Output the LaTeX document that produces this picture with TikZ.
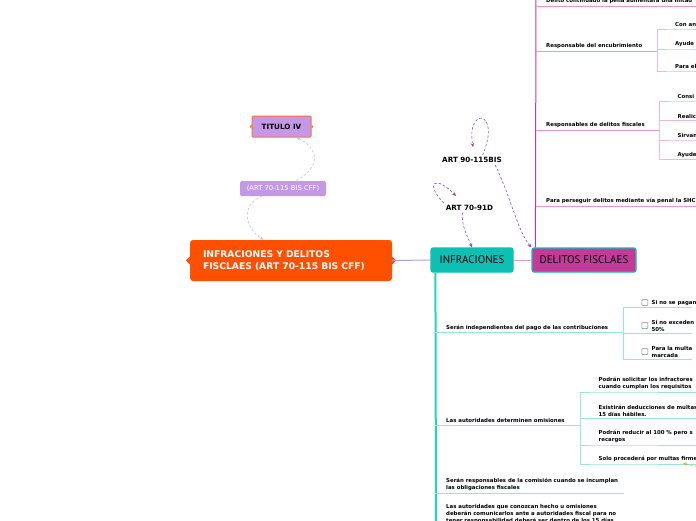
\documentclass[tikz,border=0pt]{standalone}
\usepackage{fontspec}
\setmainfont{DejaVu Sans}
\newfontfamily\hubfont{PT Sans}
\usetikzlibrary{positioning,arrows.meta}

\definecolor{fiscorange}{RGB}{255,80,0}
\definecolor{infteal}{RGB}{14,192,180}
\definecolor{inftrunk}{RGB}{34,214,186}
\definecolor{infline}{RGB}{150,232,214}
\definecolor{delmag}{RGB}{196,58,152}
\definecolor{delline}{RGB}{234,150,206}
\definecolor{delsub}{RGB}{240,182,222}
\definecolor{lavender}{RGB}{196,152,230}
\definecolor{relpurple}{RGB}{126,84,176}
\definecolor{rellight}{RGB}{208,186,238}
\definecolor{rootline}{RGB}{172,160,214}
\definecolor{relorange}{RGB}{246,160,60}

\begin{document}
\begin{tikzpicture}[x=1pt, y=-1pt,
        every node/.style = {inner sep=0pt},
        leaf/.style = {anchor=south west, align=left, inner ysep=2pt,
                       font=\bfseries\fontsize{5.4}{7}\selectfont},
        hub/.style = {draw, line width=1.2pt, rounded corners=2pt, minimum height=24pt,
                      font=\hubfont\fontsize{11}{13}\selectfont},
        rellabel/.style = {font=\bfseries\fontsize{7.2}{8}\selectfont, inner sep=2pt},
        rel/.style = {relpurple, line width=0.6pt, dash pattern=on 2.5pt off 2pt},
        tip/.style = {-{Stealth[length=4pt,width=3.5pt]}},
        dline/.style = {delline, line width=0.8pt},
        dsub/.style = {delsub, line width=0.8pt},
        iline/.style = {infline, line width=1pt},
        chkbox/.style = {draw=gray, line width=0.5pt, rounded corners=0.8pt,
                         minimum size=6pt}]
  \useasboundingbox (0,0) rectangle (696,520);
  \fill[white] (0,0) rectangle (696,520);
  \clip (0,0) rectangle (696,520);

  % central topics
  \node[fill=fiscorange, rounded corners=3pt, text=white, minimum width=202pt,
        minimum height=41pt, text width=176pt, align=left,
        font=\bfseries\fontsize{9.2}{12.5}\selectfont] (root) at (291,260.5)
        {INFRACIONES Y DELITOS\\FISCLAES (ART 70-115 BIS CFF)};
  \fill[fiscorange] ([yshift=4pt]root.west) -- ++(-4pt,-4pt) -- ++(4pt,-4pt) -- cycle;
  \fill[fiscorange] ([yshift=4pt]root.east) -- ++(4pt,-4pt) -- ++(-4pt,-4pt) -- cycle;
  \node[hub, fill=infteal, draw=infteal, minimum width=82pt] (infra) at (472,260) {INFRACIONES};
  \node[hub, fill=delmag, draw=infteal, minimum width=104pt] (delitos) at (584,260) {DELITOS FISCLAES};
  \draw[rootline, line width=1pt] (root.east) -- (infra.west);
  \draw[delline, line width=1pt] (infra.east) -- (delitos.west);

  % titulo and its relation
  \node[draw=fiscorange!80, fill=lavender, line width=1pt, rounded corners=1pt,
        minimum width=59pt, minimum height=21pt,
        font=\bfseries\fontsize{7.2}{8}\selectfont] (titulo) at (281.5,126.5) {TITULO IV};
  \fill[fiscorange!80] ([yshift=2pt]titulo.west) -- ++(-2pt,-2pt) -- ++(2pt,-2pt) -- cycle;
  \fill[fiscorange!80] ([yshift=2pt]titulo.east) -- ++(2pt,-2pt) -- ++(-2pt,-2pt) -- cycle;
  \node[fill=lavender, rounded corners=1.5pt, minimum width=86pt, minimum height=15pt,
        text=white, font=\fontsize{6.8}{8}\selectfont] (cff) at (283,188.5) {(ART 70-115 BIS CFF)};
  \draw[rel, rellight, {Stealth[length=4pt,width=3.5pt]}-] (titulo.-36) .. controls (322,150) and (318,170) .. (cff.32);
  \draw[rel, rellight, tip] (cff.200) .. controls (240,205) and (245,228) .. (root.143);

  % relations between the two topics
  \node[rellabel] (art90) at (472,160) {ART 90-115BIS};
  \node[rellabel] (art70) at (469.5,208) {ART 70-91D};
  \coordinate (loop90) at (473,147);
  \coordinate (loop70) at (456,196);
  \draw[rel, tip] (art90.25) .. controls (502,110) and (466,106) .. (loop90);
  \draw[rel, tip] (art90.-12) .. controls (510,195) and (518,232) .. (delitos.north west);
  \draw[rel, tip] (art70.north west) .. controls (424,182) and (436,175) .. (loop70);
  \draw[rel, tip] (art70.215) .. controls (461,225) and (468,238) .. (infra.north);

  % delitos fiscales
  \coordinate (dtop) at (536,-5);
  \draw[delmag, line width=1pt] ([xshift=4pt]delitos.north west) -- (dtop);
  \node[leaf] (cont) at (546,6) {Delito continuado la pena aumentará una mitad};
  \draw[dline] (cont.south west -| dtop) -- ++(200pt,0);

  \node[leaf] (enc) at (546,51) {Responsable del encubrimiento};
  \coordinate (encb) at (657,51);
  \draw[dline] (enc.south west -| dtop) -- (encb);
  \node[leaf] (enc1) at (675,29) {Con an};
  \node[leaf] (enc2) at (675,49) {Ayude};
  \node[leaf] (enc3) at (675,71) {Para el};
  \foreach \n in {enc1,enc2,enc3}
    \draw[dsub] (encb) |- (\n.south west) -- ++(40pt,0);

  \node[leaf] (resp) at (546,130) {Responsables de delitos fiscales};
  \coordinate (respb) at (659,130);
  \draw[dline] (resp.south west -| dtop) -- (respb);
  \node[leaf] (resp1) at (677.5,101) {Consi};
  \node[leaf] (resp2) at (677.5,120.5) {Realic};
  \node[leaf] (resp3) at (677.5,140) {Sirvan};
  \node[leaf] (resp4) at (677.5,159.5) {Ayude};
  \foreach \n in {resp1,resp2,resp3,resp4}
    \draw[dsub] (respb) |- (\n.south west) -- ++(40pt,0);

  \node[leaf] (shcp) at (546,206) {Para perseguir delitos mediante vía penal la SHC};
  \draw[dline] (shcp.south west -| dtop) -- ++(200pt,0);

  % infracciones
  \coordinate (itop) at ([xshift=5pt]infra.south west);
  \coordinate (ibot) at (436,525);
  \draw[inftrunk, line width=2pt] (itop) -- (ibot);

  \node[leaf] (indep) at (446,332.5) {Serán independientes del pago de las contribuciones};
  \coordinate (indepb) at (623,332.5);
  \draw[iline] (indep.south west -| itop) -- (indepb);
  \node[leaf] (si1) at (651.5,307.5) {Si no se pagan};
  \node[leaf] (si2) at (651.5,333.3) {Si no exceden\\50\%};
  \node[leaf] (si3) at (651.5,359.3) {Para la multa\\marcada};
  \foreach \n in {si1,si2,si3} {
    \draw[iline] (indepb) |- (\n.south west) -- ++(40pt,0);
    \node[chkbox, left=3.5pt of \n] {};
  }

  \node[leaf] (omis) at (446,425) {Las autoridades determinen omisiones};
  \coordinate (omisb) at (580,425);
  \draw[iline] (omis.south west -| itop) -- (omisb);
  \node[leaf] (om1) at (598.5,392) {Podrán solicitar los infractores\\cuando cumplan los requisitos};
  \node[leaf] (om2) at (598.5,418.3) {Existirán deducciones de multas\\15 días hábiles.};
  \node[leaf] (om3) at (598.5,445) {Podrán reducir al 100 \% pero s\\recargos};
  \node[leaf] (om4) at (598.5,464) {Solo procederá por multas firme};
  \foreach \n in {om1,om2,om3,om4}
    \draw[iline] (omisb) |- (\n.south west) -- ++(120pt,0);
  \coordinate (fragtip) at (683,463.5);
  \coordinate (fragend) at (700,467);
  \draw[rel, relorange, {Stealth[length=4pt,width=3.5pt]}-] (fragtip) -- (fragend);

  \node[leaf] (comis) at (446,493) {Serán responsables de la comisión cuando se incumplan\\las obligaciones fiscales};
  \coordinate (comisb) at (624,493);
  \draw[iline] (comis.south west -| itop) -- (comisb);

  \node[leaf, anchor=north west] (conoz) at (446,502)
    {Las autoridades que conozcan hecho u omisiones\\deberán comunicarlos ante a autoridades fiscal para no\\tener responsabilidad deberá ser dentro de los 15 días};
\end{tikzpicture}
\end{document}
